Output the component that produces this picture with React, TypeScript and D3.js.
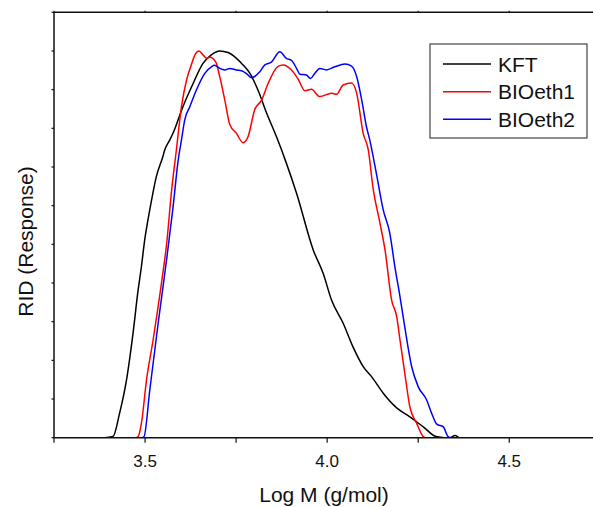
import React from "react";
import * as d3 from "d3";

const W = 593;
const H = 507;

const kftX = [3.25, 3.389, 3.412, 3.43, 3.449, 3.467, 3.481, 3.49, 3.499, 3.508, 3.518, 3.531, 3.549, 3.554, 3.568, 3.577, 3.604, 3.632, 3.659, 3.682, 3.705, 3.728, 3.751, 3.769, 3.788, 3.81, 3.834, 3.861, 3.888, 3.916, 3.962, 3.989, 4.012, 4.044, 4.071, 4.099, 4.122, 4.154, 4.191, 4.227, 4.264, 4.299, 4.323, 4.337, 4.351, 4.364, 4.73];
const kftY = [0, 0, 0.003, 0.063, 0.149, 0.27, 0.382, 0.442, 0.511, 0.563, 0.615, 0.675, 0.727, 0.744, 0.77, 0.788, 0.856, 0.916, 0.968, 0.99, 1.0, 0.996, 0.981, 0.964, 0.942, 0.899, 0.839, 0.778, 0.71, 0.632, 0.485, 0.425, 0.356, 0.296, 0.235, 0.184, 0.158, 0.115, 0.077, 0.054, 0.028, 0.003, 0, 0, 0.006, 0, 0];

const bio1X = [3.25, 3.474, 3.481, 3.49, 3.504, 3.522, 3.545, 3.559, 3.573, 3.586, 3.6, 3.614, 3.627, 3.637, 3.648, 3.659, 3.669, 3.678, 3.694, 3.705, 3.719, 3.733, 3.751, 3.769, 3.783, 3.801, 3.82, 3.838, 3.865, 3.879, 3.902, 3.92, 3.939, 3.957, 3.98, 4.012, 4.026, 4.044, 4.067, 4.081, 4.099, 4.113, 4.126, 4.145, 4.159, 4.177, 4.191, 4.2, 4.214, 4.227, 4.246, 4.264, 4.271, 4.73];
const bio1Y = [0, 0, 0.003, 0.037, 0.149, 0.252, 0.399, 0.499, 0.64, 0.744, 0.856, 0.925, 0.964, 0.99, 1.0, 0.99, 0.981, 0.984, 0.972, 0.934, 0.873, 0.809, 0.787, 0.763, 0.779, 0.848, 0.873, 0.916, 0.96, 0.964, 0.951, 0.928, 0.897, 0.901, 0.882, 0.891, 0.888, 0.912, 0.917, 0.891, 0.787, 0.744, 0.646, 0.555, 0.485, 0.356, 0.313, 0.253, 0.162, 0.08, 0.037, 0.003, 0, 0];

const bio2X = [3.25, 3.491, 3.497, 3.513, 3.536, 3.559, 3.577, 3.591, 3.6, 3.609, 3.623, 3.641, 3.664, 3.682, 3.691, 3.705, 3.719, 3.733, 3.751, 3.765, 3.778, 3.792, 3.801, 3.815, 3.829, 3.847, 3.87, 3.888, 3.902, 3.916, 3.925, 3.943, 3.954, 3.966, 3.98, 3.998, 4.021, 4.049, 4.067, 4.081, 4.095, 4.108, 4.117, 4.136, 4.154, 4.172, 4.186, 4.2, 4.213, 4.232, 4.25, 4.273, 4.287, 4.301, 4.319, 4.332, 4.34, 4.73];
const bio2Y = [0, 0, 0.002, 0.123, 0.296, 0.459, 0.597, 0.718, 0.77, 0.822, 0.856, 0.899, 0.942, 0.959, 0.963, 0.955, 0.951, 0.955, 0.951, 0.949, 0.942, 0.931, 0.934, 0.946, 0.964, 0.971, 0.998, 0.981, 0.976, 0.955, 0.94, 0.938, 0.929, 0.942, 0.955, 0.951, 0.959, 0.966, 0.961, 0.934, 0.873, 0.804, 0.77, 0.679, 0.589, 0.529, 0.442, 0.365, 0.287, 0.184, 0.132, 0.098, 0.063, 0.035, 0.028, 0.003, 0, 0];

const seriesNames = ["KFT", "BIOeth1", "BIOeth2"];
const seriesColors = ["#000000", "#ff0000", "#0000ff"];
const xMajorTicks = [3.5, 4.0, 4.5];
const xAllTicks = [3.25, 3.5, 3.75, 4.0, 4.25, 4.5];
const yTicks = [0, 0.1, 0.2, 0.3, 0.4, 0.5, 0.6, 0.7, 0.8, 0.9, 1.0, 1.1];

const FONT = "'Liberation Sans', Arial, Helvetica, sans-serif";

export default function App() {
  const left = 54;
  const right = 593;
  const top = 12.3;
  const bottom = 437.7;

  const x = d3.scaleLinear().domain([3.25, 4.73]).range([left, right]);
  const y = d3.scaleLinear().domain([0, 1.1]).range([bottom, top]);

  const line = d3
    .line<[number, number]>()
    .x((d) => x(d[0]))
    .y((d) => y(d[1]))
    .curve(d3.curveMonotoneX);

  const data: [number, number][][] = [
    kftX.map((v, i) => [v, kftY[i]]),
    bio1X.map((v, i) => [v, bio1Y[i]]),
    bio2X.map((v, i) => [v, bio2Y[i]]),
  ];

  const legendRows = [64, 91.7, 119.3];

  return (
    <svg
      width={W}
      height={H}
      style={{ position: "absolute", left: 0, top: 0, background: "#fff" }}
    >
      <rect x={0} y={0} width={W} height={H} fill="#fff" />
      <defs>
        <clipPath id="plot">
          <rect x={left} y={top - 2} width={right - left} height={bottom - top + 2} />
        </clipPath>
      </defs>
      <g clipPath="url(#plot)">
        {data.map((d, i) => (
          <path
            key={i}
            d={line(d) || ""}
            fill="none"
            stroke={seriesColors[i]}
            strokeWidth={1.5}
            strokeLinejoin="round"
          />
        ))}
      </g>
      {/* frame */}
      <line x1={left} x2={right} y1={bottom} y2={bottom} stroke="#111" strokeWidth={1.5} />
      <line x1={left} x2={right} y1={top} y2={top} stroke="#111" strokeWidth={1.5} />
      <line x1={left} x2={left} y1={top} y2={bottom} stroke="#111" strokeWidth={1.5} />
      {/* x ticks */}
      {xAllTicks.map((t) => (
        <g key={"xt" + t}>
          <line x1={x(t)} x2={x(t)} y1={bottom} y2={bottom + 5} stroke="#111" strokeWidth={1.2} />
          <line x1={x(t)} x2={x(t)} y1={top} y2={top - 1.5} stroke="#111" strokeWidth={1.2} />
        </g>
      ))}
      {xMajorTicks.map((t) => (
        <text
          key={"xl" + t}
          x={x(t)}
          y={467}
          textAnchor="middle"
          fontFamily={FONT}
          fontSize={17}
          fill="#111"
        >
          {t.toFixed(1)}
        </text>
      ))}
      {/* y ticks */}
      {yTicks.map((t) => (
        <line key={"yt" + t} x1={left - 2.5} x2={left} y1={y(t)} y2={y(t)} stroke="#111" strokeWidth={1.2} />
      ))}
      {/* axis titles */}
      <text
        x={324}
        y={502}
        textAnchor="middle"
        fontFamily={FONT}
        fontSize={21}
        fill="#111"
      >
        Log M (g/mol)
      </text>
      <text
        transform={`translate(33, 241.5) rotate(-90)`}
        textAnchor="middle"
        fontFamily={FONT}
        fontSize={21}
        fill="#111"
      >
        RID (Response)
      </text>
      {/* legend */}
      <rect x={430} y={44} width={157} height={94} fill="#fff" stroke="#444" strokeWidth={1.2} />
      {seriesNames.map((n, i) => (
        <g key={n}>
          <line x1={443} x2={491} y1={legendRows[i]} y2={legendRows[i]} stroke={seriesColors[i]} strokeWidth={1.5} />
          <text
            x={498}
            y={legendRows[i]}
            dy="0.36em"
            fontFamily={FONT}
            fontSize={21}
            fill="#111"
          >
            {n}
          </text>
        </g>
      ))}
    </svg>
  );
}
